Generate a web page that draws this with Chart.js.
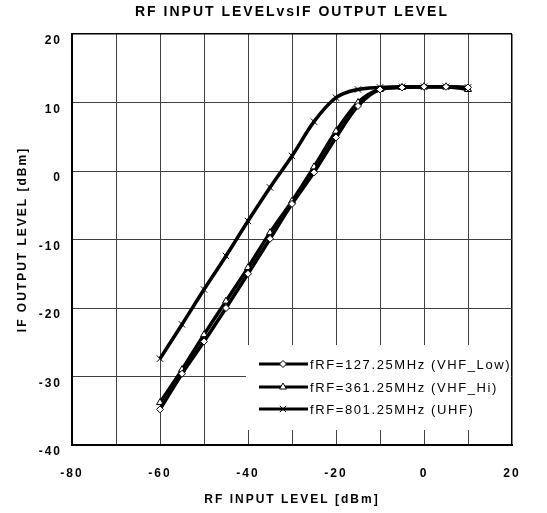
<!DOCTYPE html>
<html>
<head>
<meta charset="utf-8">
<script src="https://cdn.jsdelivr.net/npm/chart.js@4/dist/chart.umd.min.js"></script>
<style>
  html, body { margin: 0; padding: 0; background: #fff; }
  #wrap { width: 547px; height: 513px; }
</style>
</head>
<body>
<div id="wrap"><canvas id="chart"></canvas></div>
<script>
// RF input level (dBm) for every measured point
const rfInput = [-60, -55, -50, -45, -40, -35, -30, -25, -20, -15, -10, -5, 0, 5, 10];

// IF output level (dBm)
const vhfLow = [-34.8, -29.6, -24.9, -20.0, -15.0, -9.9, -4.8, -0.2, 4.9, 9.5, 11.9, 12.2, 12.3, 12.3, 12.2];
const vhfHi  = [-33.8, -29.0, -23.9, -19.0, -14.1, -9.0, -4.4, 0.6, 5.8, 10.0, 11.9, 12.2, 12.3, 12.3, 11.9];
const uhf    = [-27.4, -22.4, -17.3, -12.4, -7.3, -2.4, 2.2, 7.2, 10.7, 11.9, 12.2, 12.3, 12.3, 12.3, 12.2];

const seriesLabels = ['fRF=127.25MHz (VHF_Low)', 'fRF=361.25MHz (VHF_Hi)', 'fRF=801.25MHz (UHF)'];

const FONT = "'Liberation Sans', Arial, sans-serif";

function toPoints(ys) {
  return rfInput.map((x, i) => ({ x: x, y: ys[i] }));
}

function makeSet(label, ys, style, radius) {
  return {
    label: label,
    data: toPoints(ys),
    borderColor: '#000',
    borderWidth: 3.5,
    backgroundColor: '#fff',
    pointStyle: style,
    pointRadius: radius,
    pointBorderWidth: 1,
    pointBorderColor: '#000',
    pointBackgroundColor: '#fff',
    cubicInterpolationMode: 'monotone',
    fill: false
  };
}

// spaced out lettering like the original
const spacing = {
  id: 'spacing',
  beforeDraw(chart) {
    chart.ctx.letterSpacing = '2px';
  }
};

// legend drawn inside the plot, on a white box
const boxLegend = {
  id: 'boxLegend',
  beforeDatasetsDraw(chart) {
    const ctx = chart.ctx;
    const area = chart.chartArea;
    ctx.save();
    ctx.fillStyle = '#fff';
    ctx.fillRect(246, 345, area.right - 246 - 1, 85);
    ctx.restore();
  },
  afterDraw(chart) {
    const ctx = chart.ctx;
    const rows = [364, 387, 409];
    ctx.save();
    ctx.letterSpacing = '1.6px';
    chart.data.datasets.forEach((ds, i) => {
      let y = rows[i];
      ctx.strokeStyle = '#000';
      ctx.lineWidth = 3;
      ctx.beginPath();
      ctx.moveTo(259, y);
      ctx.lineTo(308, y);
      ctx.stroke();
      ctx.fillStyle = '#fff';
      ctx.lineWidth = ds.pointBorderWidth;
      Chart.helpers.drawPoint(ctx, {
        pointStyle: ds.pointStyle,
        radius: ds.pointRadius,
        borderWidth: ds.pointBorderWidth,
        rotation: 0
      }, 283, y);
      ctx.fillStyle = '#000';
      ctx.font = '13px ' + FONT;
      ctx.textBaseline = 'middle';
      ctx.textAlign = 'left';
      ctx.fillText(ds.label, 310, y + 1);
    });
    ctx.restore();
  }
};

const gridColor = (max) => (c) => (c.tick && c.tick.value === max ? '#000' : '#404040');
const gridWidth = (max) => (c) => (c.tick && c.tick.value === max ? 1.5 : 1);

new Chart(document.getElementById('chart'), {
  type: 'line',
  data: {
    datasets: [
      makeSet(seriesLabels[0], vhfLow, 'rectRot', 3.5),
      makeSet(seriesLabels[1], vhfHi, 'triangle', 4),
      makeSet(seriesLabels[2], uhf, 'crossRot', 4.5)
    ]
  },
  options: {
    responsive: true,
    maintainAspectRatio: false,
    animation: false,
    layout: { padding: { left: 0, right: 35, top: 0, bottom: 0 } },
    plugins: {
      legend: { display: false },
      tooltip: { enabled: false },
      title: {
        display: true,
        fullSize: false,
        text: 'RF INPUT LEVELvsIF OUTPUT LEVEL',
        color: '#000',
        font: { family: FONT, size: 14, weight: 'bold' },
        padding: { top: 4, bottom: 13.2 }
      }
    },
    scales: {
      x: {
        type: 'linear',
        min: -80,
        max: 20,
        afterFit(scale) { scale.height = 68; },
        ticks: {
          stepSize: 10,
          autoSkip: false,
          maxRotation: 0,
          padding: 21,
          color: '#000',
          font: { family: FONT, size: 12, weight: 'bold' },
          callback: (v) => (v % 20 === 0 ? v : '')
        },
        grid: { color: gridColor(20), lineWidth: gridWidth(20), drawTicks: false },
        border: { color: '#000', width: 2 },
        title: {
          display: true,
          text: 'RF INPUT LEVEL [dBm]',
          color: '#000',
          font: { family: FONT, size: 12, weight: 'bold' },
          padding: { top: 0, bottom: 6 }
        }
      },
      y: {
        min: -40,
        max: 20,
        afterFit(scale) { scale.width = 72; },
        ticks: {
          stepSize: 10,
          padding: 10,
          labelOffset: 7,
          color: '#000',
          font: { family: FONT, size: 12, weight: 'bold' }
        },
        grid: { color: gridColor(20), lineWidth: gridWidth(20), drawTicks: false },
        border: { color: '#000', width: 2 },
        title: {
          display: true,
          text: 'IF OUTPUT LEVEL [dBm]',
          color: '#000',
          font: { family: FONT, size: 12, weight: 'bold' },
          padding: { top: 15, bottom: 0 }
        }
      }
    }
  },
  plugins: [spacing, boxLegend]
});
</script>
</body>
</html>
